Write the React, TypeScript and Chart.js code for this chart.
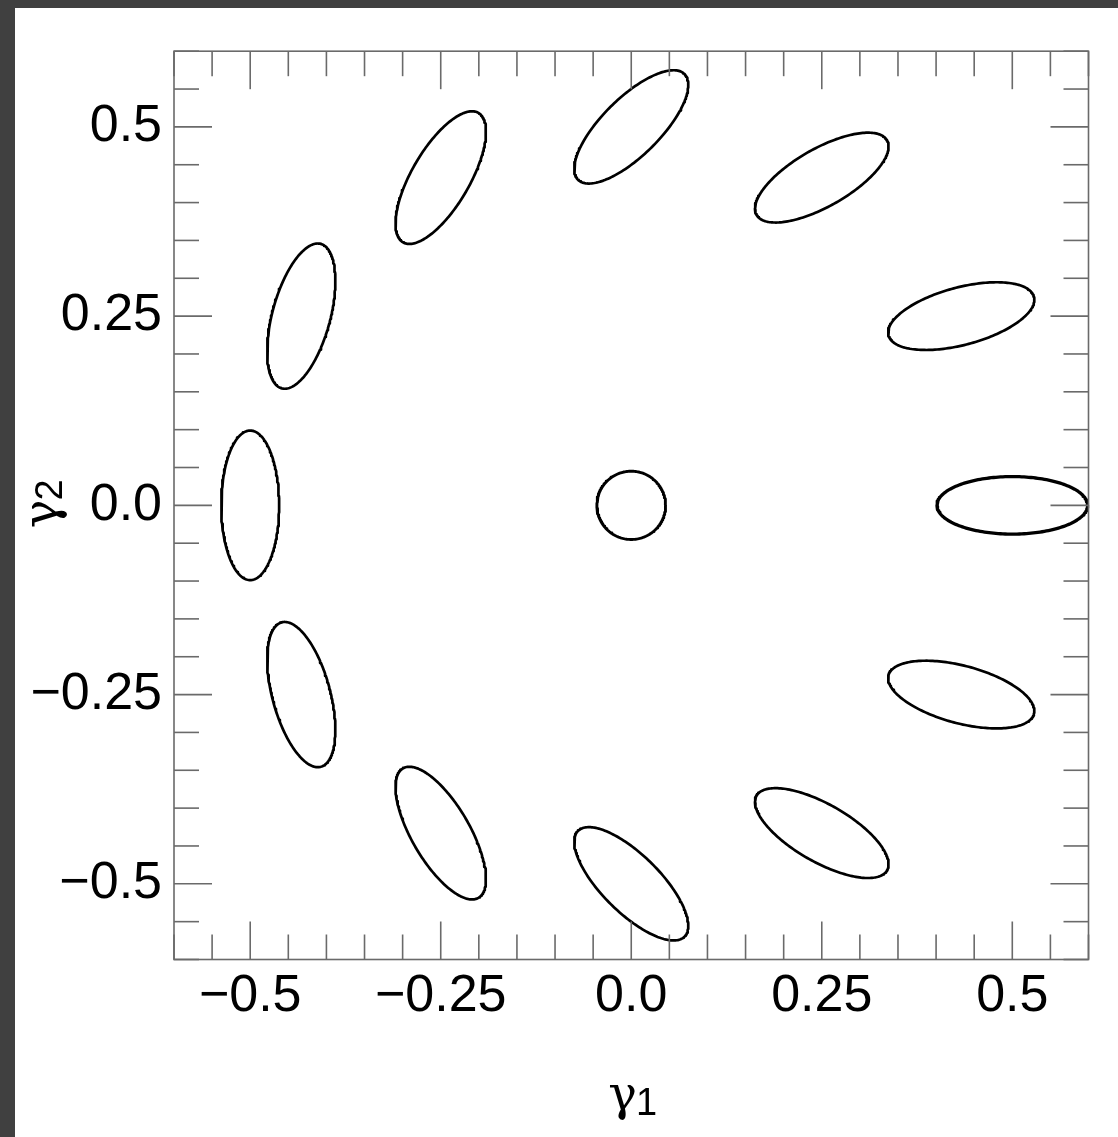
import React, { useEffect, useRef } from 'react';
import { Chart, registerables } from 'chart.js';

Chart.register(...registerables);

// Ellipse centres (γ1, γ2)
const centerX = [0.5, 0.433, 0.25, 0.0, -0.25, -0.433, -0.5, -0.433, -0.25, 0.0, 0.25, 0.433, 0.0];
const centerY = [0.0, 0.25, 0.433, 0.5, 0.433, 0.25, 0.0, -0.25, -0.433, -0.5, -0.433, -0.25, 0.0];
// Semi-axes (data units) and tilt of the major axis (degrees)
const semiMajor = [0.0988, 0.0988, 0.0988, 0.0988, 0.0988, 0.0988, 0.0988, 0.0988, 0.0988, 0.0988, 0.0988, 0.0988, 0.0451];
const semiMinor = [0.038, 0.038, 0.038, 0.038, 0.038, 0.038, 0.038, 0.038, 0.038, 0.038, 0.038, 0.038, 0.0451];
const tiltDeg = [0, 15, 30, 45, 60, 75, 90, 105, 120, 135, 150, 165, 0];
const strokeWidths = [3.3, 2.7, 2.7, 2.7, 2.7, 2.7, 2.7, 2.7, 2.7, 2.7, 2.7, 2.7, 2.9];

const xTickValues = [-0.5, -0.25, 0, 0.25, 0.5];
const xTickLabels = ['\u22120.5', '\u22120.25', '0.0', '0.25', '0.5'];
const yTickValues = [-0.5, -0.25, 0, 0.25, 0.5];
const yTickLabels = ['\u22120.5', '\u22120.25', '0.0', '0.25', '0.5'];
const axisMin = -0.6;
const axisMax = 0.6;
const minorStep = 0.05;
const xTitle = ['\u03b3', '1'];
const yTitle = ['\u03b3', '2'];

function outline(i: number) {
  const pts: { x: number; y: number }[] = [];
  const th = (tiltDeg[i] * Math.PI) / 180;
  const n = 200;
  for (let k = 0; k <= n; k++) {
    const t = (2 * Math.PI * k) / n;
    const u = semiMajor[i] * Math.cos(t);
    const v = semiMinor[i] * Math.sin(t);
    pts.push({
      x: centerX[i] + u * Math.cos(th) - v * Math.sin(th),
      y: centerY[i] + u * Math.sin(th) + v * Math.cos(th),
    });
  }
  return pts;
}

const greekFont = "48px 'DejaVu Serif', serif";
const digitFont = "38px 'Liberation Sans', Arial, sans-serif";

function drawTitle(ctx: CanvasRenderingContext2D, parts: string[]) {
  ctx.font = greekFont;
  const wg = ctx.measureText(parts[0]).width;
  ctx.font = digitFont;
  const wd = ctx.measureText(parts[1]).width;
  const start = -(wg + wd) / 2 + 2;
  ctx.textBaseline = 'alphabetic';
  ctx.textAlign = 'left';
  ctx.fillStyle = '#000';
  ctx.font = greekFont;
  ctx.fillText(parts[0], start, 0);
  ctx.font = digitFont;
  ctx.fillText(parts[1], start + wg - 1, 4.5);
}

const frameTicks = {
  id: 'frameTicks',
  afterDatasetsDraw(chart: any) {
    const { ctx, chartArea, scales } = chart;
    const { left, right, top, bottom } = chartArea;
    const x = scales.x;
    const y = scales.y;
    ctx.save();
    ctx.strokeStyle = '#6a6a6a';
    ctx.lineWidth = 1.6;
    ctx.strokeRect(left, top, right - left, bottom - top);
    const nSteps = Math.round((axisMax - axisMin) / minorStep);
    const line = (x1: number, y1: number, x2: number, y2: number) => {
      ctx.beginPath();
      ctx.moveTo(x1, y1);
      ctx.lineTo(x2, y2);
      ctx.stroke();
    };
    for (let k = 0; k <= nSteps; k++) {
      const i = k - nSteps / 2;
      const v = axisMin + k * minorStep;
      const len = i % 5 === 0 ? 38 : 25;
      const px = x.getPixelForValue(v);
      const py = y.getPixelForValue(v);
      line(px, bottom, px, bottom - len);
      line(px, top, px, top + len);
      line(left, py, left + len, py);
      line(right, py, right - len, py);
    }
    ctx.restore();

    // axis titles
    const cx = (left + right) / 2;
    const cy = (top + bottom) / 2;
    ctx.save();
    ctx.translate(cx, 1102);
    drawTitle(ctx, xTitle);
    ctx.restore();
    ctx.save();
    ctx.translate(42, cy);
    ctx.rotate(-Math.PI / 2);
    drawTitle(ctx, yTitle);
    ctx.restore();
  },
};

export default function App() {
  const ref = useRef<HTMLCanvasElement | null>(null);

  useEffect(() => {
    if (!ref.current) return;
    const datasets = centerX.map((_, i) => ({
      label: 'ellipse ' + i,
      data: outline(i),
      showLine: true,
      pointRadius: 0,
      pointHoverRadius: 0,
      borderColor: '#000',
      borderWidth: strokeWidths[i],
      borderJoinStyle: 'round',
      borderCapStyle: 'round',
      fill: false,
      tension: 0,
      clip: 6,
    }));
    const tickFont = { family: "'Liberation Sans', Arial, Helvetica, sans-serif", size: 52 };
    const chart = new Chart(ref.current, {
      type: 'scatter',
      data: { datasets },
      plugins: [frameTicks],
      options: {
        animation: false,
        responsive: false,
        devicePixelRatio: 1,
        layout: { padding: { left: 0, top: 39.5, right: 29.5, bottom: 0 } },
        plugins: { legend: { display: false }, tooltip: { enabled: false } },
        scales: {
          x: {
            type: 'linear',
            min: axisMin,
            max: axisMax,
            grid: { display: false, drawTicks: false },
            border: { display: false },
            afterBuildTicks: (s: any) => {
              s.ticks = xTickValues.map((v) => ({ value: v }));
            },
            afterFit: (s: any) => {
              s.height = 177.5;
            },
            ticks: {
              padding: 6,
              color: '#000',
              font: tickFont,
              maxRotation: 0,
              autoSkip: false,
              callback: (v: any) => xTickLabels[xTickValues.indexOf(Number(v))],
            },
            title: { display: false, text: xTitle.join('') },
          },
          y: {
            type: 'linear',
            min: axisMin,
            max: axisMax,
            grid: { display: false, drawTicks: false },
            border: { display: false },
            afterBuildTicks: (s: any) => {
              s.ticks = yTickValues.map((v) => ({ value: v }));
            },
            afterFit: (s: any) => {
              s.width = 159;
            },
            ticks: {
              padding: 12,
              color: '#000',
              font: tickFont,
              autoSkip: false,
              callback: (v: any) => yTickLabels[yTickValues.indexOf(Number(v))],
            },
            title: { display: false, text: yTitle.join('') },
          },
        },
      },
    } as any);
    return () => chart.destroy();
  }, []);

  return (
    <div style={{ position: 'fixed', left: 0, top: 0, width: 1118, height: 1137, background: '#404040', overflow: 'hidden' }}>
      <div style={{ position: 'absolute', left: 15, top: 8, width: 1103, height: 1129, background: '#ffffff' }}>
        <canvas ref={ref} width={1103} height={1129} style={{ display: 'block', width: 1103, height: 1129 }} />
      </div>
    </div>
  );
}
